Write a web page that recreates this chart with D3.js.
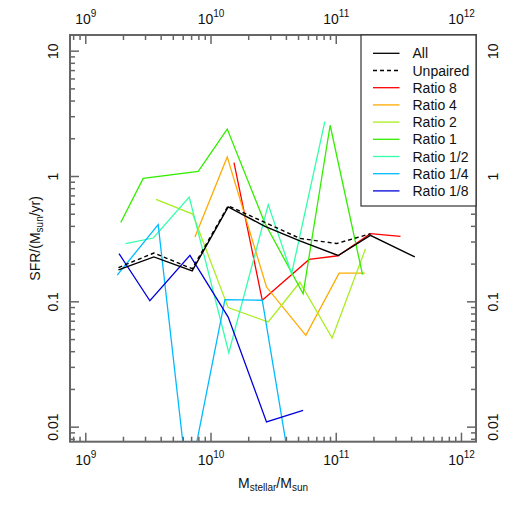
<!DOCTYPE html>
<html>
<head>
<meta charset="utf-8">
<script src="https://cdn.jsdelivr.net/npm/d3@7"></script>
<style>
  body { margin: 0; background: #fff; }
  text { font-family: "Liberation Sans", Arial, sans-serif; fill: #111; }
</style>
</head>
<body>
<div id="chart"></div>
<script>
// values (stellar mass in Msun, SFR in Msun/yr)
const seriesNames = ["All", "Unpaired", "Ratio 8", "Ratio 4", "Ratio 2", "Ratio 1", "Ratio 1/2", "Ratio 1/4", "Ratio 1/8"];
const seriesColors = ["#000000", "#000000", "#ff0000", "#ffaa00", "#aaee22", "#33ee00", "#33ffaa", "#00bbff", "#0000dd"];

const massAll = [1.84e9, 3.53e9, 7.14e9, 1.384e10, 2.72e10, 5.17e10, 1.045e11, 1.889e11, 4.28e11];
const sfrAll = [0.178, 0.226, 0.175, 0.566, 0.397, 0.304, 0.232, 0.336, 0.226];

const massUnpaired = [1.84e9, 3.53e9, 7.14e9, 1.384e10, 2.72e10, 5.17e10, 1.015e11, 1.889e11];
const sfrUnpaired = [0.186, 0.243, 0.182, 0.578, 0.426, 0.318, 0.289, 0.346];

const massR8 = [1.54e10, 2.59e10, 6.13e10, 1.045e11, 1.889e11, 3.29e11];
const sfrR8 = [1.28, 0.102, 0.216, 0.231, 0.347, 0.330];

const massR4 = [7.51e9, 1.36e10, 2.80e10, 5.77e10, 1.064e11, 1.707e11];
const sfrR4 = [0.326, 1.42, 0.130, 0.0535, 0.168, 0.168];

const massR2 = [3.67e9, 7.20e9, 1.384e10, 2.89e10, 5.17e10, 9.36e10, 1.729e11];
const sfrR2 = [0.652, 0.497, 0.0891, 0.0684, 0.142, 0.0509, 0.263];

const massR1 = [1.92e9, 2.90e9, 7.98e9, 1.36e10, 2.72e10, 5.49e10, 9.02e10, 1.637e11];
const sfrR1 = [0.425, 0.958, 1.09, 2.37, 0.419, 0.115, 2.54, 0.163];

const massR1_2 = [2.10e9, 3.49e9, 6.76e9, 1.40e10, 2.89e10, 4.44e10, 8.18e10];
const sfrR1_2 = [0.289, 0.320, 0.680, 0.039, 0.591, 0.166, 2.71];

const massR1_4 = [1.80e9, 3.82e9, 6.60e9, 1.303e10, 2.59e10, 5.17e10];
const sfrR1_4 = [0.162, 0.409, 0.0033, 0.103, 0.102, 0.0016];

const massR1_8 = [1.86e9, 3.28e9, 6.85e9, 1.384e10, 2.80e10, 5.49e10];
const sfrR1_8 = [0.240, 0.101, 0.233, 0.0749, 0.0109, 0.0135];

const seriesMass = [massAll, massUnpaired, massR8, massR4, massR2, massR1, massR1_2, massR1_4, massR1_8];
const seriesSfr = [sfrAll, sfrUnpaired, sfrR8, sfrR4, sfrR2, sfrR1, sfrR1_2, sfrR1_4, sfrR1_8];

const xMajor = [1e9, 1e10, 1e11, 1e12];
const xMajorExp = ["9", "10", "11", "12"];
const yMajor = [10, 1, 0.1, 0.01];
const yMajorLabels = ["10", "1", "0.1", "0.01"];

const width = 512, height = 512;
const plotLeft = 70, plotRight = 476, plotTop = 35, plotBottom = 441.7;

const svg = d3.select("#chart").append("svg")
    .attr("width", width)
    .attr("height", height);

const x = d3.scaleLog()
    .domain([Math.pow(10, 8.878), Math.pow(10, 12.12)])
    .range([plotLeft, plotRight]);

const y = d3.scaleLog()
    .domain([Math.pow(10, -2.12), Math.pow(10, 1.125)])
    .range([plotBottom, plotTop]);

function minors(lo, hi) {
    const out = [];
    for (let e = lo; e <= hi; e++) {
        for (let k = 2; k <= 9; k++) out.push(k * Math.pow(10, e));
    }
    return out;
}
const xMinor = minors(8, 11).filter(v => v >= x.domain()[0] && v <= x.domain()[1]);
const yMinor = minors(-3, 1).filter(v => v >= y.domain()[0] && v <= y.domain()[1]);

svg.append("defs").append("clipPath")
    .attr("id", "plotclip")
    .append("rect")
        .attr("x", plotLeft)
        .attr("y", plotTop)
        .attr("width", plotRight - plotLeft)
        .attr("height", plotBottom - plotTop);

// lines
const line = d3.line()
    .x(d => x(d[0]))
    .y(d => y(d[1]));

const plot = svg.append("g").attr("clip-path", "url(#plotclip)");

// coloured ratios first, black ones on top
const order = [2, 3, 4, 5, 6, 7, 8, 1, 0];
for (const i of order) {
    const pts = seriesMass[i].map((m, j) => [m, seriesSfr[i][j]]);
    plot.append("path")
        .attr("d", line(pts))
        .attr("fill", "none")
        .attr("stroke", seriesColors[i])
        .attr("stroke-width", i < 2 ? 1.4 : 1.3)
        .attr("stroke-dasharray", i === 1 ? "4,3" : null);
}

// axes, ticks pointing into the plot
function styleAxis(g) {
    g.select(".domain").remove();
    g.selectAll(".tick line").attr("stroke", "#666").attr("stroke-width", 1.5);
}

function xAxis(axisFn, ypos, labelDy) {
    svg.append("g")
        .attr("transform", `translate(0,${ypos})`)
        .call(axisFn(x).tickValues(xMinor).tickSize(-5).tickFormat(""))
        .call(styleAxis);
    const g = svg.append("g")
        .attr("transform", `translate(0,${ypos})`)
        .call(axisFn(x).tickValues(xMajor).tickSize(-9).tickFormat(""))
        .call(styleAxis);
    g.selectAll(".tick").append("text")
        .attr("y", labelDy)
        .attr("text-anchor", "middle")
        .style("font-size", "14px")
        .each(function (d, i) {
            const t = d3.select(this);
            t.append("tspan").text("10");
            t.append("tspan").attr("dy", -7).style("font-size", "10px").text(xMajorExp[i]);
        });
}
xAxis(d3.axisBottom, plotBottom, 23);
xAxis(d3.axisTop, plotTop, -11);

function yAxis(axisFn, xpos, labelX) {
    svg.append("g")
        .attr("transform", `translate(${xpos},0)`)
        .call(axisFn(y).tickValues(yMinor).tickSize(-5).tickFormat(""))
        .call(styleAxis);
    const g = svg.append("g")
        .attr("transform", `translate(${xpos},0)`)
        .call(axisFn(y).tickValues(yMajor).tickSize(-9).tickFormat(""))
        .call(styleAxis);
    g.selectAll(".tick").append("text")
        .attr("transform", `translate(${labelX},0) rotate(-90)`)
        .attr("text-anchor", "middle")
        .style("font-size", "14px")
        .text((d, i) => yMajorLabels[i]);
}
yAxis(d3.axisLeft, plotLeft, -12);
yAxis(d3.axisRight, plotRight, 22);

// frame
svg.append("rect")
    .attr("x", plotLeft)
    .attr("y", plotTop)
    .attr("width", plotRight - plotLeft)
    .attr("height", plotBottom - plotTop)
    .attr("fill", "none")
    .attr("stroke", "#666")
    .attr("stroke-width", 2);

// axis titles
const xt = svg.append("text")
    .attr("x", (plotLeft + plotRight) / 2)
    .attr("y", 488)
    .attr("text-anchor", "middle")
    .style("font-size", "14px");
xt.append("tspan").text("M");
xt.append("tspan").attr("dy", 3).style("font-size", "10px").text("stellar");
xt.append("tspan").attr("dy", -3).text("/M");
xt.append("tspan").attr("dy", 3).style("font-size", "10px").text("sun");

const yt = svg.append("text")
    .attr("transform", `translate(40,${(plotTop + plotBottom) / 2}) rotate(-90)`)
    .attr("text-anchor", "middle")
    .style("font-size", "14px");
yt.append("tspan").text("SFR/(M");
yt.append("tspan").attr("dy", 3).style("font-size", "10px").text("sun");
yt.append("tspan").attr("dy", -3).text("/yr)");

// legend
const legend = svg.append("g");
legend.append("rect")
    .attr("x", 361)
    .attr("y", plotTop)
    .attr("width", plotRight - 361)
    .attr("height", 171)
    .attr("fill", "#fff")
    .attr("stroke", "#333")
    .attr("stroke-width", 1.2);

const rows = legend.selectAll("g.row")
    .data(seriesNames)
    .enter()
    .append("g")
        .attr("transform", (d, i) => `translate(0,${53.3 + i * 17.2})`);

rows.append("line")
    .attr("x1", 373)
    .attr("x2", 399.5)
    .attr("stroke", (d, i) => seriesColors[i])
    .attr("stroke-width", 1.3)
    .attr("stroke-dasharray", (d, i) => i === 1 ? "4,3" : null);

rows.append("text")
    .attr("x", 412.5)
    .attr("y", 5)
    .style("font-size", "14px")
    .text(d => d);
</script>
</body>
</html>
